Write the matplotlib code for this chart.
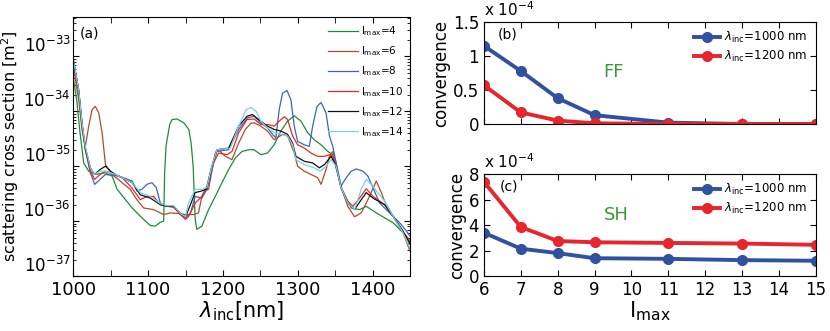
import numpy as np
import matplotlib
matplotlib.use('Agg')
import matplotlib.pyplot as plt
from matplotlib.ticker import MultipleLocator, LogLocator, NullFormatter, FixedLocator

# ---- (a) scattering cross section, values as log10(sigma / m^2) ----
wl_4 = [1000, 1004.5, 1009, 1013.9, 1020.6, 1029.5, 1043, 1051.9, 1058.6, 1069.8, 1078.7, 1089.5,
        1102.9, 1109.6, 1116.3, 1120.8, 1122.1, 1123.9, 1125.3, 1128.9, 1132, 1138.7, 1147.7, 1154.4,
        1157.5, 1160.2, 1162.9, 1165.1, 1171.8, 1180.8, 1189.7, 1198.7, 1207.6, 1216.6, 1225.5, 1234.5,
        1241.6, 1250.6, 1259.5, 1268.5, 1277.4, 1286.4, 1295.3, 1304.3, 1313.2, 1322.1, 1331.1, 1340,
        1346.8, 1357.9, 1371.4, 1382.6, 1391.5, 1404.9, 1416.1, 1427.3, 1436.2, 1445.2, 1450]
lg_4 = [-33.39, -33.79, -34.39, -34.94, -35.09, -35.15, -35.12, -35.18, -35.42, -35.61, -35.76, -35.91,
        -36.08, -36.09, -36.02, -36.00, -35.12, -34.64, -34.52, -34.24, -34.15, -34.14, -34.21, -34.33,
        -34.58, -35.00, -35.97, -36.15, -36.09, -35.79, -35.55, -35.30, -35.06, -34.85, -34.73, -34.70,
        -34.70, -34.79, -34.76, -34.61, -34.36, -34.18, -34.08, -34.18, -34.39, -34.52, -34.61, -34.73,
        -34.79, -35.39, -35.76, -35.79, -35.73, -35.85, -35.94, -36.03, -36.15, -36.27, -36.39]

wl_6 = [1000, 1007.2, 1011.6, 1016.1, 1020.6, 1025.1, 1029.5, 1034, 1038.5, 1043, 1051.9, 1065.3,
        1076.1, 1085, 1094, 1107.4, 1120.8, 1129.8, 1138.7, 1149.9, 1161.1, 1167.3, 1171.8, 1176.3,
        1180.8, 1189.7, 1194.2, 1203.1, 1212.1, 1221, 1230, 1237.1, 1241.6, 1250.6, 1259.5, 1268.5,
        1272.9, 1279.6, 1286.4, 1295.3, 1299.8, 1308.7, 1317.7, 1326.6, 1331.1, 1337.8, 1342.3, 1346.8,
        1351.2, 1357.9, 1366.9, 1375.8, 1384.8, 1393.7, 1404.9, 1411.6, 1416.1, 1427.3, 1440.7, 1450]
lg_6 = [-33.18, -33.79, -34.33, -34.64, -34.27, -33.97, -33.91, -34.03, -34.39, -34.97, -35.15, -35.30,
        -35.42, -35.61, -35.76, -35.79, -35.88, -35.85, -35.86, -35.88, -35.88, -35.85, -35.55, -35.45,
        -35.42, -34.76, -34.70, -34.82, -34.88, -34.58, -34.33, -34.22, -34.21, -34.27, -34.36, -34.52,
        -34.48, -34.42, -34.45, -34.76, -35.00, -35.09, -35.15, -35.21, -35.33, -35.06, -34.82, -34.73,
        -34.94, -35.39, -35.73, -35.92, -35.85, -35.61, -35.27, -35.48, -35.64, -35.91, -36.21, -36.55]

wl_8 = [1000, 1007.2, 1011.6, 1016.1, 1022.8, 1028.6, 1035.8, 1043, 1060.9, 1078.7, 1085, 1091.7,
        1098.4, 1105.1, 1110.9, 1116.3, 1125.3, 1134.2, 1143.2, 1149.9, 1156.6, 1162.9, 1171.8, 1178.5,
        1185.2, 1191.9, 1207.6, 1221, 1232.7, 1241.6, 1250.6, 1259.5, 1266.2, 1270.7, 1275.2, 1279.6,
        1285.5, 1290.8, 1295.3, 1299.8, 1308.7, 1315.4, 1319.9, 1325.7, 1331.1, 1337.8, 1342.3, 1346.8,
        1351.2, 1357.9, 1364.7, 1371.4, 1378.1, 1387, 1393.7, 1400.4, 1409.4, 1418.3, 1427.3, 1436.2,
        1445.2, 1450]
lg_8 = [-33.06, -33.61, -34.21, -34.70, -35.12, -35.33, -35.24, -35.15, -35.18, -35.27, -35.45, -35.42,
        -35.33, -35.30, -35.39, -35.67, -35.73, -35.73, -35.88, -35.94, -35.85, -35.55, -35.58, -35.42,
        -35.06, -34.73, -34.70, -34.33, -34.12, -34.09, -34.21, -34.30, -34.42, -34.48, -33.97, -33.67,
        -33.62, -33.79, -34.27, -34.55, -34.61, -34.64, -34.27, -33.91, -33.84, -34.03, -34.45, -34.64,
        -34.94, -35.36, -35.21, -35.09, -35.05, -35.09, -35.18, -35.39, -35.67, -35.79, -35.91, -36.03,
        -36.18, -36.27]

wl_10 = [1000, 1007.2, 1011.6, 1016.1, 1022.8, 1028.6, 1035.8, 1043, 1065.3, 1076.1, 1085, 1089.5,
         1098.4, 1107.4, 1116.3, 1125.3, 1134.2, 1143.2, 1149.9, 1154.4, 1162.9, 1171.8, 1178.5, 1185.2,
         1194.2, 1205.4, 1212.1, 1221, 1232.2, 1241.6, 1250.6, 1259.5, 1268.5, 1275.2, 1281.9, 1286.4,
         1293.1, 1299.8, 1308.7, 1317.7, 1326.6, 1335.6, 1342.3, 1346.8, 1351.2, 1357.9, 1366.9, 1373.6,
         1382.6, 1391.5, 1400.4, 1416.1, 1427.3, 1440.7, 1450]
lg_10 = [-33.15, -33.67, -34.24, -34.70, -35.09, -35.24, -35.15, -35.09, -35.21, -35.36, -35.52, -35.61,
         -35.55, -35.55, -35.70, -35.73, -35.75, -35.88, -35.97, -35.91, -35.67, -35.55, -35.36, -35.00,
         -34.76, -34.79, -34.73, -34.39, -34.15, -34.14, -34.24, -34.24, -34.27, -34.18, -34.10, -34.15,
         -34.45, -34.61, -34.67, -34.76, -34.82, -34.82, -34.79, -34.82, -35.00, -35.39, -35.64, -35.73,
         -35.58, -35.41, -35.55, -35.70, -35.91, -36.21, -36.36]

wl_12 = [1000, 1007.2, 1011.6, 1016.1, 1022.8, 1028.6, 1035.8, 1043, 1049.7, 1056.4, 1078.7, 1089.5,
         1102.9, 1116.3, 1125.3, 1134.2, 1143.2, 1149.9, 1153.9, 1162.9, 1171.8, 1178.5, 1185.2, 1191.9,
         1207.6, 1221, 1232.2, 1239.4, 1250.6, 1259.5, 1268.5, 1277.4, 1286.4, 1293.1, 1297.5, 1308.7,
         1319.9, 1328.9, 1335.6, 1344.5, 1351.2, 1357.9, 1366.9, 1375.8, 1384.8, 1391.5, 1400.4, 1416.1,
         1427.3, 1440.7, 1450]
lg_12 = [-33.06, -33.61, -34.21, -34.67, -35.03, -35.15, -35.06, -35.00, -35.09, -35.15, -35.30, -35.52,
         -35.58, -35.70, -35.73, -35.73, -35.86, -35.92, -35.79, -35.48, -35.45, -35.41, -35.00, -34.70,
         -34.67, -34.27, -34.09, -34.06, -34.18, -34.27, -34.33, -34.36, -34.42, -34.58, -34.82, -34.91,
         -34.94, -35.03, -34.97, -34.82, -35.00, -35.39, -35.67, -35.79, -35.61, -35.48, -35.58, -35.70,
         -35.91, -36.18, -36.42]

wl_14 = [1000, 1007.2, 1011.6, 1016.1, 1022.8, 1028.6, 1035.8, 1043, 1056.4, 1078.7, 1089.5, 1102.9,
         1116.3, 1125.3, 1134.2, 1143.2, 1149.9, 1153.9, 1162.9, 1171.8, 1178.5, 1185.2, 1191.9, 1209.8,
         1221, 1230.9, 1237.6, 1244.3, 1250.6, 1259.5, 1268.5, 1277.4, 1286.4, 1293.1, 1297.5, 1308.7,
         1322.1, 1330.2, 1337.8, 1344.5, 1351.2, 1357.9, 1366.9, 1375.8, 1384.8, 1391.5, 1398.2, 1416.1,
         1427.3, 1440.7, 1450]
lg_14 = [-33.06, -33.61, -34.21, -34.64, -35.03, -35.15, -35.09, -35.09, -35.15, -35.30, -35.48, -35.55,
         -35.68, -35.72, -35.72, -35.86, -35.92, -35.67, -35.42, -35.42, -35.39, -35.00, -34.70, -34.67,
         -34.27, -33.97, -33.93, -34.00, -34.18, -34.30, -34.39, -34.42, -34.45, -34.61, -34.88, -34.97,
         -35.03, -35.09, -35.00, -34.88, -35.00, -35.39, -35.67, -35.79, -35.42, -35.24, -35.33, -35.64,
         -35.91, -36.21, -36.50]

lmax_labels = ['4', '6', '8', '10', '12', '14']
curve_colors = ['#1f8a3c', '#b04a30', '#4062b8', '#e82828', '#111111', '#74d2e2']
decade_ticks = [1e-37, 1e-36, 1e-35, 1e-34, 1e-33]

# ---- (b) / (c) convergence (x 1e-4) ----
lmax = [6, 7, 8, 9, 11, 13, 15]
ff_1000 = [1.15, 0.78, 0.38, 0.13, 0.02, 0.0, 0.0]
ff_1200 = [0.57, 0.17, 0.05, 0.01, 0.0, 0.0, 0.0]
sh_1000 = [3.4, 2.15, 1.8, 1.4, 1.35, 1.25, 1.2]
sh_1200 = [7.4, 3.85, 2.75, 2.65, 2.6, 2.55, 2.45]

blue = '#3050a0'
red = '#e8242c'
green_txt = '#3a9a3a'

fig = plt.figure(figsize=(8.3, 3.31), dpi=100)

# panel (a)
ax = fig.add_axes([0.0883, 0.166, 0.4057, 0.7825])
wls = [wl_4, wl_6, wl_8, wl_10, wl_12, wl_14]
lgs = [lg_4, lg_6, lg_8, lg_10, lg_12, lg_14]
for w, l, lab, c in zip(wls, lgs, lmax_labels, curve_colors):
    ax.semilogy(w, 10.0 ** np.array(l), color=c, lw=0.9, label=r'l$_{\mathrm{max}}$=' + lab)
ax.set_xlim(1000, 1450)
ax.set_ylim(1e-37, 5.2e-33)
ax.xaxis.set_major_locator(MultipleLocator(100))
ax.xaxis.set_minor_locator(MultipleLocator(50))
ax.yaxis.set_major_locator(FixedLocator(decade_ticks))
ax.yaxis.set_minor_locator(LogLocator(base=10, subs=np.arange(2, 10), numticks=10))
ax.yaxis.set_minor_formatter(NullFormatter())
ax.tick_params(which='both', direction='in', top=True, right=True)
ax.tick_params(axis='x', labelsize=13)
ax.tick_params(axis='y', labelsize=12, pad=2)
ax.tick_params(which='major', length=4)
ax.tick_params(which='minor', length=2)
ax.tick_params(axis='x', which='minor', length=4)
plt.setp(ax.get_yticklabels(), va='bottom')
ax.set_xlabel(r'$\lambda_{\mathrm{inc}}$[nm]', fontsize=15, labelpad=0)
ax.set_ylabel(r'scattering cross section [m$^2$]', fontsize=11.5)
ax.yaxis.set_label_coords(-0.155, 0.5)
ax.text(0.02, 0.935, '(a)', transform=ax.transAxes, fontsize=10, va='center')
ax.legend(loc='upper right', bbox_to_anchor=(1.0, 0.995), frameon=False, fontsize=7.5,
          handlelength=2.9, labelspacing=0.6, handletextpad=0.3, borderaxespad=0.2)

# panel (b)
axb = fig.add_axes([0.583, 0.6254, 0.400, 0.308])
axb.plot(lmax, ff_1000, '-o', color=blue, lw=2.8, ms=7, label=r'$\lambda_{\mathrm{inc}}$=1000 nm')
axb.plot(lmax, ff_1200, '-o', color=red, lw=2.8, ms=7, label=r'$\lambda_{\mathrm{inc}}$=1200 nm')
axb.set_xlim(6, 15)
axb.set_ylim(0, 1.5)
axb.set_xticks(range(6, 16))
axb.set_xticklabels([])
axb.set_yticks([0, 0.5, 1, 1.5])
axb.set_yticklabels(['0', '0.5', '1', '1.5'])
axb.tick_params(direction='in', top=True, right=True, labelsize=12, length=4)
axb.set_ylabel('convergence', fontsize=12, labelpad=2)
axb.text(0.0, 1.03, r'x 10$^{-4}$', transform=axb.transAxes, fontsize=11, va='bottom')
axb.text(0.042, 0.88, '(b)', transform=axb.transAxes, fontsize=10, va='center')
axb.text(9.5, 0.76, 'FF', color=green_txt, fontsize=13, ha='center', va='center')
axb.legend(loc='upper right', frameon=False, fontsize=8.5, handlelength=2.2,
           handletextpad=0.4, labelspacing=0.3, borderaxespad=0.3)

# panel (c)
axc = fig.add_axes([0.583, 0.166, 0.400, 0.308])
axc.plot(lmax, sh_1000, '-o', color=blue, lw=2.8, ms=7, label=r'$\lambda_{\mathrm{inc}}$=1000 nm')
axc.plot(lmax, sh_1200, '-o', color=red, lw=2.8, ms=7, label=r'$\lambda_{\mathrm{inc}}$=1200 nm')
axc.set_xlim(6, 15)
axc.set_ylim(0, 8)
axc.set_xticks(range(6, 16))
axc.set_yticks([0, 2, 4, 6, 8])
axc.tick_params(direction='in', top=True, right=True, labelsize=12, length=4)
axc.set_ylabel('convergence', fontsize=12, labelpad=2)
axc.set_xlabel(r'l$_{\mathrm{max}}$', fontsize=16, labelpad=0)
axc.text(0.0, 1.03, r'x 10$^{-4}$', transform=axc.transAxes, fontsize=11, va='bottom')
axc.text(0.048, 0.88, '(c)', transform=axc.transAxes, fontsize=10, va='center')
axc.text(9.6, 4.8, 'SH', color=green_txt, fontsize=13, ha='center', va='center')
axc.legend(loc='upper right', frameon=False, fontsize=8.5, handlelength=2.2,
           handletextpad=0.4, labelspacing=0.3, borderaxespad=0.3)

fig.savefig('out.png', dpi=100)
